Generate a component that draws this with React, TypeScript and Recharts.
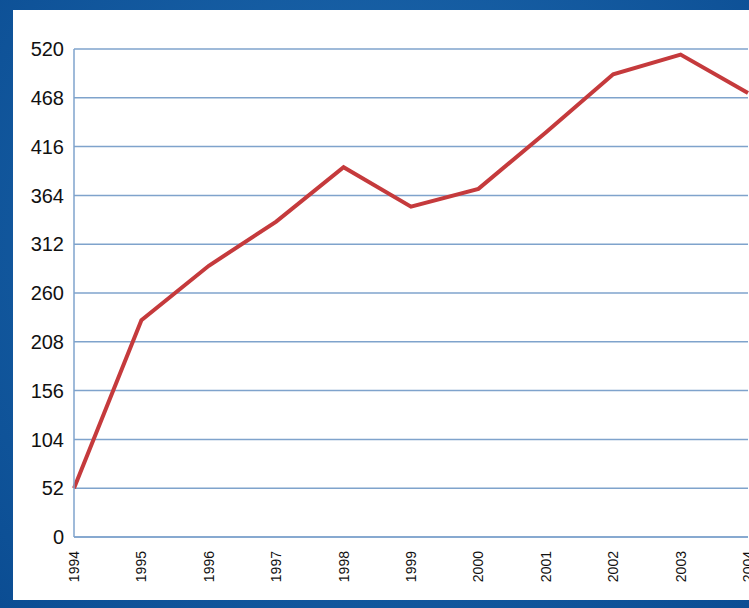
import React from 'react';
import { LineChart, Line, XAxis, YAxis, CartesianGrid } from 'recharts';

const years = ['1994','1995','1996','1997','1998','1999','2000','2001','2002','2003','2004'];
const values = [52, 231, 289, 336, 394, 352, 371, 431, 493, 514, 473];
const yTicks = [0, 52, 104, 156, 208, 260, 312, 364, 416, 468, 520];

const data = years.map((y, i) => ({ year: y, v: values[i] }));

const XTick = (props: any) => {
  const { x, y, payload } = props;
  return (
    <text x={x} y={y + 6} transform={`rotate(-90 ${x} ${y + 6})`} textAnchor="end" dominantBaseline="central"
      fontSize={14} fontFamily="Liberation Sans, Arial, sans-serif" fill="#111">{payload.value}</text>
  );
};

export default function App() {
  return (
    <div style={{ position: 'absolute', left: 0, top: 0, width: 749, height: 608, overflow: 'hidden',
      background: 'radial-gradient(circle at 50% 40%, #1f6bb0, #0b4d93)' }}>
      <div style={{ position: 'absolute', left: 13, top: 10, width: 740, height: 590, background: '#fff', overflow: 'hidden' }}>
        <LineChart width={760} height={590} data={data} margin={{ top: 39, right: 25, bottom: 8, left: 0 }}>
          <CartesianGrid vertical={false} stroke="#7fa3cc" strokeWidth={1.5} />
          <XAxis dataKey="year" interval={0} height={55} tick={<XTick />} tickLine={false}
            axisLine={{ stroke: '#7fa3cc', strokeWidth: 1.5 }} padding={{ left: 0, right: 0 }} />
          <YAxis type="number" domain={[0, 520]} ticks={yTicks} width={61} tickLine={false}
            axisLine={{ stroke: '#7fa3cc', strokeWidth: 1.5 }}
            tick={{ fontSize: 20, fill: '#111', fontFamily: 'Liberation Sans, Arial, sans-serif' }} tickMargin={4} />
          <Line type="linear" dataKey="v" stroke="#c53a3c" strokeWidth={4} dot={false} isAnimationActive={false} />
        </LineChart>
      </div>
    </div>
  );
}
